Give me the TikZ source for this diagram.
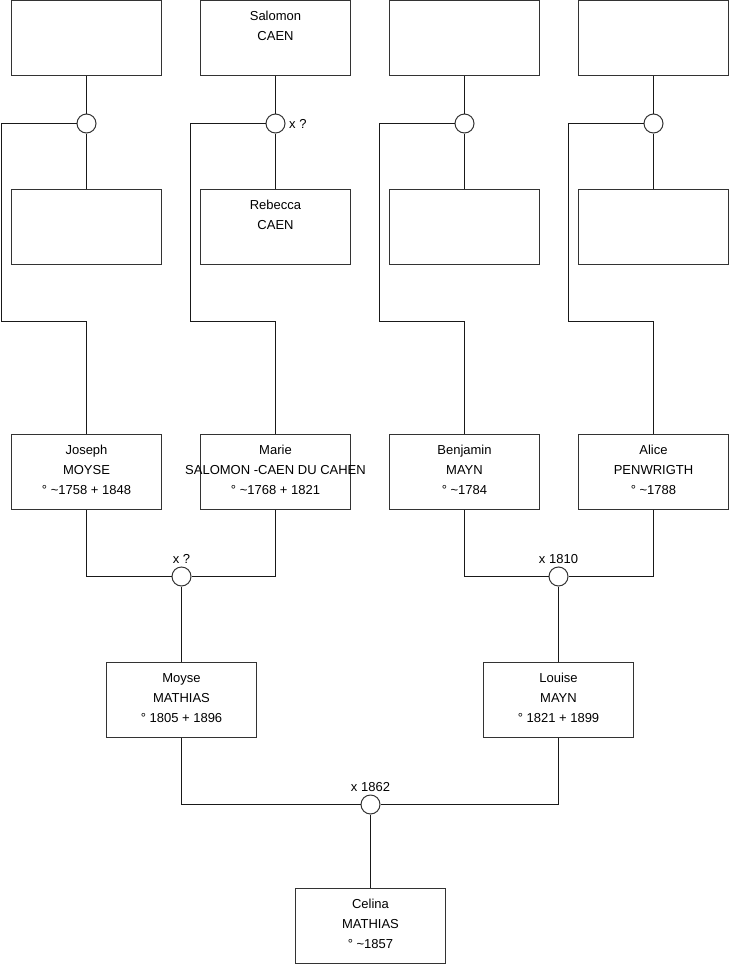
\documentclass[tikz,border=0pt]{standalone}
\usepackage{fontspec}
\setmainfont{Liberation Sans}
\usetikzlibrary{positioning}

\begin{document}
\begin{tikzpicture}[
  x=1pt, y=-1pt,
  font=\fontsize{13}{20}\selectfont,
  person/.style={draw=black!80, line width=1pt, minimum width=150pt,
                 minimum height=75pt, inner sep=0pt, align=center,
                 execute at end node={\rule[-4pt]{0pt}{4pt}}},
  union/.style={draw=black!80, line width=1pt, circle, minimum size=19pt,
                inner sep=0pt, fill=white},
  link/.style={black!90, line width=1pt},
  lab/.style={font=\fontsize{13}{15}\selectfont, inner sep=1.5pt},
]
\useasboundingbox (0,0) rectangle (740,975);

% great-grandparents
\node[person] (gf1) at (86.5, 38) {};
\node[person] (gf2) at (275.5, 38) {Salomon\\CAEN\\\mbox{}};
\node[person] (gf3) at (464.5, 38) {};
\node[person] (gf4) at (653.5, 38) {};
\node[person] (gm1) at (86.5, 227) {};
\node[person] (gm2) at (275.5, 227) {Rebecca\\CAEN\\\mbox{}};
\node[person] (gm3) at (464.5, 227) {};
\node[person] (gm4) at (653.5, 227) {};
\node[union] (u1) at (86.5, 123.5) {};
\node[union] (u2) at (275.5, 123.5) {};
\node[union] (u3) at (464.5, 123.5) {};
\node[union] (u4) at (653.5, 123.5) {};
\node[lab, right=2pt of u2] (u2lab) {x ?};

% grandparents
\node[person] (joseph) at (86.5, 472) {Joseph\\MOYSE\\° \textasciitilde1758 + 1848};
\node[person] (marie) at (275.5, 472)
  {Marie\\\makebox[0pt]{SALOMON -CAEN DU CAHEN}\\° \textasciitilde1768 + 1821};
\node[person] (benjamin) at (464.5, 472) {Benjamin\\MAYN\\° \textasciitilde1784};
\node[person] (alice) at (653.5, 472) {Alice\\PENWRIGTH\\° \textasciitilde1788};
\coordinate (k1) at (1.5, 321.5);
\coordinate (k2) at (190.5, 321.5);
\coordinate (k3) at (379.5, 321.5);
\coordinate (k4) at (568.5, 321.5);

% parents
\node[union] (m1) at (181.5, 576.5) {};
\node[union] (m2) at (558.5, 576.5) {};
\node[lab, above=1pt of m1] (m1lab) {x ?};
\node[lab, above=1pt of m2] (m2lab) {x 1810};
\node[person] (moyse) at (181.5, 700) {Moyse\\MATHIAS\\° 1805 + 1896};
\node[person] (louise) at (558.5, 700) {Louise\\MAYN\\° 1821 + 1899};

% child
\node[union] (m3) at (370.5, 804.5) {};
\node[lab, above=1pt of m3] (m3lab) {x 1862};
\node[person] (celina) at (370.5, 926) {Celina\\MATHIAS\\° \textasciitilde1857};

\foreach \i/\kid in {1/joseph, 2/marie, 3/benjamin, 4/alice} {
  \draw[link] (gf\i.south) -- (u\i.north);
  \draw[link] (u\i.south) -- (gm\i.north);
  \draw[link] (u\i.west) -| (k\i) -- (k\i -| \kid.north) -- (\kid.north);
}
\draw[link] (joseph.south) |- (m1.west);
\draw[link] (marie.south) |- (m1.east);
\draw[link] (m1.south) -- (moyse.north);
\draw[link] (benjamin.south) |- (m2.west);
\draw[link] (alice.south) |- (m2.east);
\draw[link] (m2.south) -- (louise.north);
\draw[link] (moyse.south) |- (m3.west);
\draw[link] (louise.south) |- (m3.east);
\draw[link] (m3.south) -- (celina.north);
\end{tikzpicture}
\end{document}
